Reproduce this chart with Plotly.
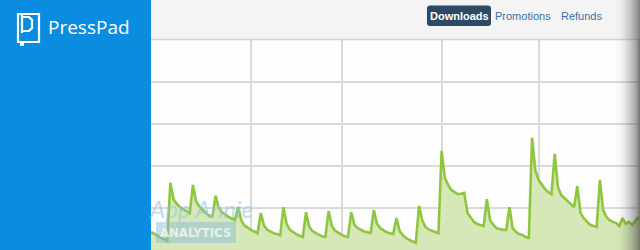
import pandas as pd
import plotly.graph_objects as go

W, H = 640, 250

# ---- data ----
start_date = "2013-01-01"
downloads = [
    43, 39, 35, 31, 27, 21,
    160, 120, 110, 102, 97, 92, 88,
    155, 115, 103, 95, 88, 82, 79,
    129, 100, 90, 84, 79, 75, 71,
    102, 70, 58, 52, 48, 44, 40,
    88, 58, 48, 43, 40, 38, 35,
    102, 62, 48, 42, 38, 34, 31,
    90, 55, 45, 40, 36, 33, 31,
    93, 57, 46, 40, 36, 33, 31,
    90, 60, 52, 47, 44, 42, 40,
    95, 62, 52, 46, 42, 40, 38,
    76, 45, 35, 28, 24, 21, 17,
    105, 70, 55, 49, 46, 43, 40,
    236, 171, 155, 143, 138, 133, 134,
    136, 88, 76, 67, 62, 60, 57,
    121, 71, 60, 52, 50, 48, 48,
    102, 52, 43, 38, 36, 31, 29,
    267, 190, 167, 155, 145, 138, 133,
    229, 150, 131, 124, 117, 110, 102,
    152, 88, 76, 67, 60, 57, 55,
    167, 95, 79, 71, 67, 64, 57,
    76, 62, 67, 60, 69, 79,
]
month_ticks = ["2013-01-01", "2013-02-01", "2013-03-01", "2013-04-01", "2013-05-01", "2013-06-01"]
y_ticks = [0, 100, 200, 300, 400, 500]
tabs = ["Downloads", "Promotions", "Refunds"]
brand = "PressPad"

dates = pd.date_range(start_date, periods=len(downloads), freq="D")


def px(x):
    return x / W


def py(y):
    return 1 - y / H


fig = go.Figure()
fig.add_trace(go.Scatter(
    x=dates, y=downloads, mode="lines",
    line=dict(color="#8fc63e", width=2.6),
    fill="tozeroy", fillcolor="#d6e8b8",
    hoverinfo="skip", showlegend=False,
))

shapes = []
annotations = []

# left blue panel
shapes.append(dict(type="rect", xref="paper", yref="paper", x0=0, x1=px(151), y0=0, y1=1,
                   fillcolor="#0b8ddf", line=dict(width=0), layer="below"))
# header strip
shapes.append(dict(type="rect", xref="paper", yref="paper", x0=px(151), x1=1, y0=py(39.5), y1=1,
                   fillcolor="#f4f4f4", line=dict(width=0), layer="below"))
shapes.append(dict(type="line", xref="paper", yref="paper", x0=px(151), x1=1, y0=py(39.5), y1=py(39.5),
                   line=dict(color="#d2d2d2", width=1.5)))

# logo icon
icon = (f"M {px(18)} {py(14)} L {px(39)} {py(14)} L {px(39)} {py(42)} "
        f"L {px(18)} {py(42)} Z")
shapes.append(dict(type="path", xref="paper", yref="paper", path=icon,
                   line=dict(color="white", width=2.2)))
pshape = (f"M {px(22)} {py(14)} L {px(22)} {py(33)} M {px(22)} {py(31)} L {px(29)} {py(31)} "
          f"L {px(32)} {py(28)} L {px(32)} {py(20)} L {px(29)} {py(17)} L {px(22)} {py(17)}")
shapes.append(dict(type="path", xref="paper", yref="paper", path=pshape,
                   line=dict(color="white", width=2.2)))
shapes.append(dict(type="rect", xref="paper", yref="paper", x0=px(20), x1=px(24), y0=py(46), y1=py(42),
                   fillcolor="white", line=dict(width=0)))
annotations.append(dict(text=brand, xref="paper", yref="paper", x=px(46), y=py(27),
                        xanchor="left", yanchor="middle", showarrow=False,
                        font=dict(family="Open Sans", size=19, color="white")))

# tabs
r = 3
bx0, bx1, by0, by1 = 427, 491, 5.5, 26
btn = (f"M {px(bx0 + r)} {py(by0)} L {px(bx1 - r)} {py(by0)} Q {px(bx1)} {py(by0)} {px(bx1)} {py(by0 + r)} "
       f"L {px(bx1)} {py(by1 - r)} Q {px(bx1)} {py(by1)} {px(bx1 - r)} {py(by1)} "
       f"L {px(bx0 + r)} {py(by1)} Q {px(bx0)} {py(by1)} {px(bx0)} {py(by1 - r)} "
       f"L {px(bx0)} {py(by0 + r)} Q {px(bx0)} {py(by0)} {px(bx0 + r)} {py(by0)} Z")
shapes.append(dict(type="path", xref="paper", yref="paper", path=btn,
                   fillcolor="#2c4a63", line=dict(width=0)))
tab_x = [459, 523, 581]
for i, (t, tx) in enumerate(zip(tabs, tab_x)):
    annotations.append(dict(
        text=f"<b>{t}</b>" if i == 0 else t, xref="paper", yref="paper",
        x=px(tx), y=py(16), xanchor="center", yanchor="middle", showarrow=False,
        font=dict(family="Liberation Sans", size=11, color="white" if i == 0 else "#3b6fa6")))

# watermark
annotations.append(dict(text="<i>App Annie</i>", xref="paper", yref="paper", x=px(201), y=py(208),
                        xanchor="center", yanchor="middle", showarrow=False,
                        font=dict(family="Lato", size=24, color="rgba(150,195,235,0.6)")))
shapes.append(dict(type="rect", xref="paper", yref="paper", x0=px(156), x1=px(236), y0=py(243), y1=py(222),
                   fillcolor="rgba(130,185,225,0.45)", line=dict(width=0), layer="above"))
annotations.append(dict(text="<b>ANALYTICS</b>", xref="paper", yref="paper", x=px(195), y=py(232),
                        xanchor="center", yanchor="middle", showarrow=False,
                        font=dict(family="DejaVu Sans Condensed, Liberation Sans", size=13,
                                  color="rgba(240,245,235,0.9)")))

# right-edge shadow
n = 26
for i in range(n):
    t = (i + 1) / n
    shapes.append(dict(type="rect", xref="paper", yref="paper",
                       x0=px(614 + i), x1=px(615 + i), y0=0, y1=1,
                       fillcolor=f"rgba(60,60,60,{0.62 * t ** 2:.3f})", line=dict(width=0), layer="above"))

fig.update_layout(
    width=W, height=H,
    margin=dict(l=0, r=0, t=0, b=0),
    paper_bgcolor="white", plot_bgcolor="#fdfdfd",
    shapes=shapes, annotations=annotations,
    xaxis=dict(domain=[px(151), 1], type="date",
               range=["2013-01-01", "2013-06-01 10:00"],
               tickvals=month_ticks, showticklabels=False,
               showgrid=True, gridcolor="#dadada", gridwidth=1.5,
               zeroline=False, showline=False, ticks=""),
    yaxis=dict(domain=[0, 1 - 40 / H], range=[0, 500],
               tickvals=y_ticks, showticklabels=False,
               showgrid=True, gridcolor="#dadada", gridwidth=1.5,
               zeroline=False, showline=False, ticks=""),
)

fig.write_html("out.html")
